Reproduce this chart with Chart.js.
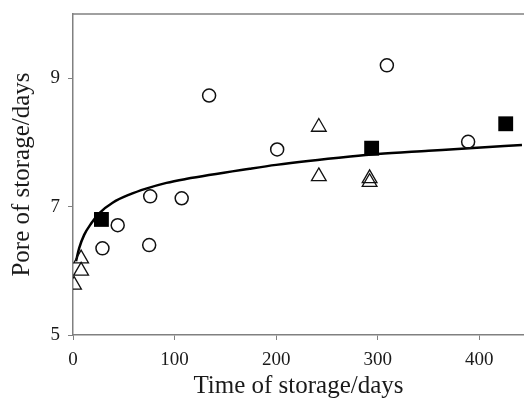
<!DOCTYPE html>
<html>
<head>
<meta charset="utf-8">
<script src="https://cdn.jsdelivr.net/npm/chart.js@4/dist/chart.umd.min.js"></script>
<style>
    html, body { margin: 0; padding: 0; background: #fff; }
    #wrap { width: 524px; height: 398px; }
</style>
</head>
<body>
<div id="wrap"><canvas id="storageChart"></canvas></div>
<script>
// Open circles
const circleX = [29, 44, 75, 76, 107, 134, 201, 309, 389];
const circleY = [6.35, 6.71, 6.40, 7.16, 7.13, 8.73, 7.89, 9.20, 8.01];

// Open triangles
const triangleX = [1, 8, 8, 242, 242, 292, 292];
const triangleY = [5.78, 6.00, 6.19, 8.24, 7.47, 7.44, 7.38];

// Filled squares
const squareX = [28, 294, 426];
const squareY = [6.80, 7.91, 8.29];

// Fitted curve
const fitX = [3, 6, 11, 18, 26, 39, 56, 72, 92, 111, 174, 200, 273, 300, 350, 390, 442];
const fitY = [6.15, 6.35, 6.56, 6.74, 6.90, 7.06, 7.19, 7.28, 7.37, 7.43, 7.59, 7.65, 7.78, 7.82, 7.87, 7.91, 7.96];

// Tick labels
const xTicks = [0, 100, 200, 300, 400];
const yTicks = [5, 7, 9];

const toPoints = (xs, ys) => xs.map((x, i) => ({ x: x, y: ys[i] }));

const axisGray = '#808080';
const serif = 'Liberation Serif, Times New Roman, serif';

// drop the automatic label padding so the plot box sits where the original does
function noScalePadding(scale) {
    scale.paddingLeft = 0;
    scale.paddingRight = 0;
    scale.paddingTop = 0;
    scale.paddingBottom = 0;
}

// Top frame line (the right side is cut off in the original)
const topFrame = {
    id: 'topFrame',
    afterDraw(chart) {
        const { ctx, chartArea } = chart;
        ctx.save();
        ctx.strokeStyle = axisGray;
        ctx.lineWidth = 1.5;
        ctx.beginPath();
        ctx.moveTo(chartArea.left, chartArea.top);
        ctx.lineTo(chart.width, chartArea.top);
        ctx.stroke();
        ctx.restore();
    }
};

const ctx = document.getElementById('storageChart').getContext('2d');

new Chart(ctx, {
    type: 'scatter',
    data: {
        datasets: [
            {
                label: 'fit',
                data: toPoints(fitX, fitY),
                showLine: true,
                borderColor: '#000',
                borderWidth: 2.5,
                pointRadius: 0,
                cubicInterpolationMode: 'monotone',
                order: 3
            },
            {
                label: 'circles',
                data: toPoints(circleX, circleY),
                pointStyle: 'circle',
                pointRadius: 6.5,
                borderColor: '#111',
                borderWidth: 1.5,
                backgroundColor: 'rgba(255,255,255,0)',
                order: 2
            },
            {
                label: 'triangles',
                data: toPoints(triangleX, triangleY),
                pointStyle: 'triangle',
                pointRadius: 8.5,
                borderColor: '#111',
                borderWidth: 1.3,
                backgroundColor: 'rgba(255,255,255,0)',
                order: 1
            },
            {
                label: 'squares',
                data: toPoints(squareX, squareY),
                pointStyle: 'rect',
                pointRadius: 10.5,
                borderColor: '#000',
                borderWidth: 0,
                backgroundColor: '#000',
                order: 0
            }
        ]
    },
    options: {
        responsive: true,
        maintainAspectRatio: false,
        animation: false,
        layout: {
            autoPadding: false,
            padding: { left: 0, top: 14, right: 0, bottom: 0 }
        },
        plugins: {
            legend: { display: false },
            tooltip: { enabled: false }
        },
        scales: {
            x: {
                type: 'linear',
                min: 0,
                max: 444,
                afterBuildTicks: (scale) => {
                    scale.ticks = xTicks.map(v => ({ value: v }));
                },
                afterFit: (scale) => {
                    scale.height = 63;
                    noScalePadding(scale);
                },
                grid: {
                    drawOnChartArea: false,
                    drawTicks: true,
                    tickLength: 5,
                    tickColor: axisGray,
                    tickWidth: 1
                },
                border: { display: true, color: axisGray, width: 1.5 },
                ticks: {
                    padding: 9,
                    color: '#1a1a1a',
                    maxRotation: 0,
                    font: { family: serif, size: 19 }
                },
                title: {
                    display: true,
                    text: 'Time of storage/days',
                    color: '#1a1a1a',
                    padding: { top: 0, bottom: 1.5 },
                    font: { family: serif, size: 25, lineHeight: 0.8 }
                }
            },
            y: {
                type: 'linear',
                min: 5,
                max: 10,
                afterBuildTicks: (scale) => {
                    scale.ticks = yTicks.map(v => ({ value: v }));
                },
                afterFit: (scale) => {
                    scale.width = 73;
                    noScalePadding(scale);
                },
                grid: {
                    drawOnChartArea: false,
                    drawTicks: true,
                    tickLength: 5,
                    tickColor: axisGray,
                    tickWidth: 1
                },
                border: { display: true, color: axisGray, width: 1.5 },
                ticks: {
                    padding: 8,
                    color: '#1a1a1a',
                    font: { family: serif, size: 19 }
                },
                title: {
                    display: true,
                    text: 'Pore of storage/days',
                    color: '#1a1a1a',
                    padding: { top: 12.5, bottom: 0 },
                    font: { family: serif, size: 25, lineHeight: 0.8 }
                }
            }
        }
    },
    plugins: [topFrame]
});
</script>
</body>
</html>
